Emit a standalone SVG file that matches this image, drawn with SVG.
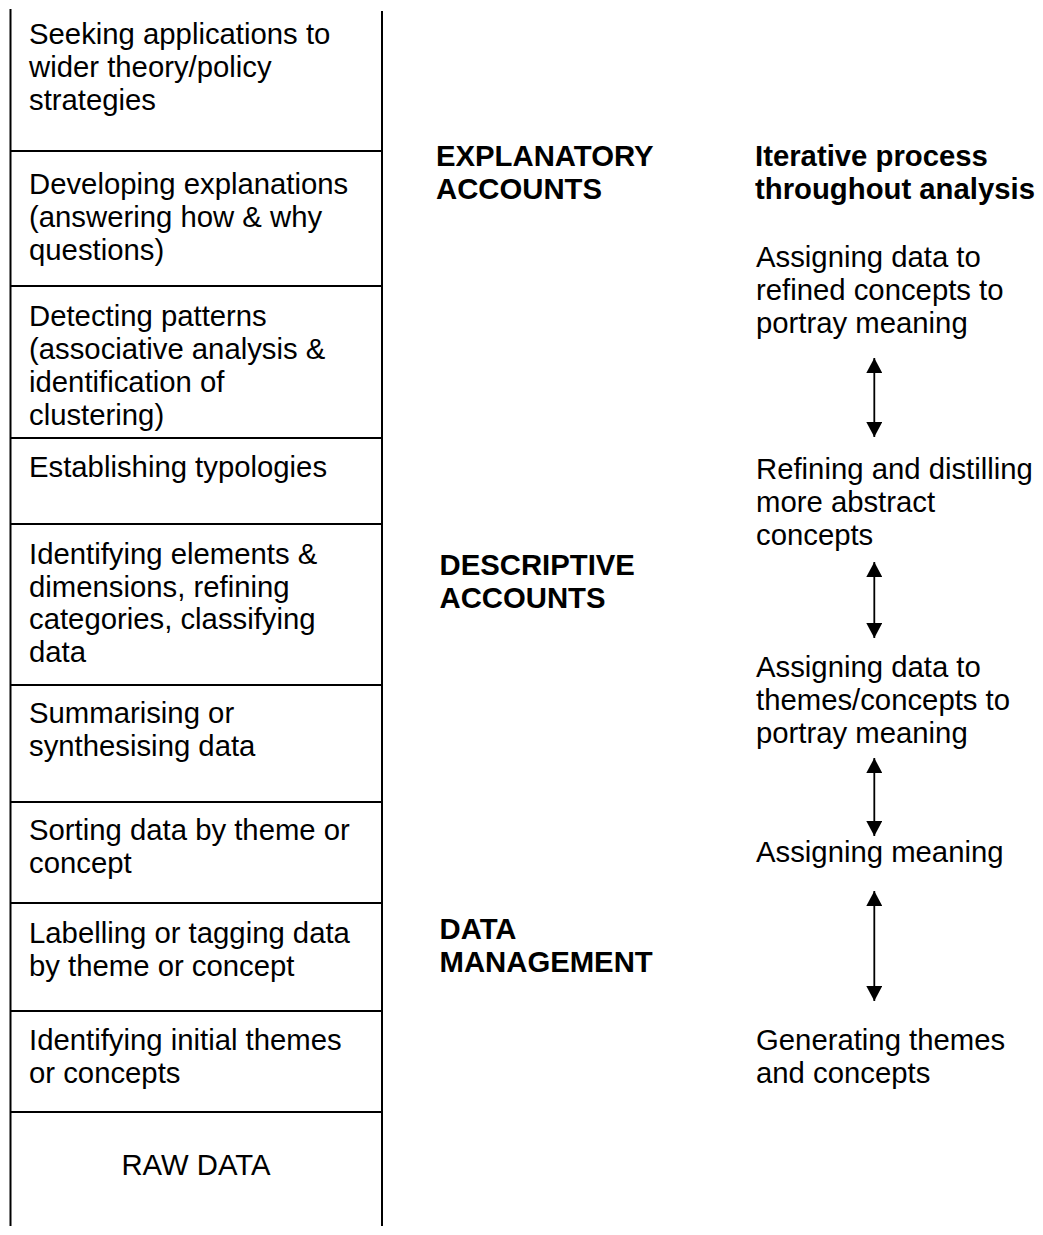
<svg xmlns="http://www.w3.org/2000/svg" width="1043" height="1235" viewBox="0 0 1043 1235">
  <style>
    .t { font-family: "Liberation Sans", Arial, sans-serif; font-size: 29.3px; fill: #000; }
    .b { font-weight: bold; }
    .rule { stroke: #000; stroke-width: 2; fill: none; }
    .arrow { stroke: #000; stroke-width: 1.8; fill: none; }
  </style>
  <defs>
    <marker id="head" viewBox="0 0 15 16" refX="15" refY="8" markerWidth="15" markerHeight="16" markerUnits="userSpaceOnUse" orient="auto-start-reverse">
      <path d="M0,0 L15,8 L0,16 Z" fill="#000"/>
    </marker>
  </defs>

  <rect x="0" y="0" width="1043" height="1235" fill="#fff"/>

  <!-- stacked column frame -->
  <g id="column-frame">
    <line class="rule" x1="10.5" y1="9" x2="10.5" y2="1226"/>
    <line class="rule" x1="382" y1="11" x2="382" y2="1226"/>
    <line class="rule" x1="10" y1="151" x2="383" y2="151"/>
    <line class="rule" x1="10" y1="286" x2="383" y2="286"/>
    <line class="rule" x1="10" y1="438" x2="383" y2="438"/>
    <line class="rule" x1="10" y1="524" x2="383" y2="524"/>
    <line class="rule" x1="10" y1="685" x2="383" y2="685"/>
    <line class="rule" x1="10" y1="802" x2="383" y2="802"/>
    <line class="rule" x1="10" y1="903" x2="383" y2="903"/>
    <line class="rule" x1="10" y1="1011" x2="383" y2="1011"/>
    <line class="rule" x1="10" y1="1112" x2="383" y2="1112"/>
  </g>

  <!-- column cells, top to bottom -->
  <g id="cell-seeking">
    <text class="t" x="29" y="43.5">Seeking applications to</text>
    <text class="t" x="29" y="76.5">wider theory/policy</text>
    <text class="t" x="29" y="109.5">strategies</text>
  </g>
  <g id="cell-developing">
    <text class="t" x="29" y="194">Developing explanations</text>
    <text class="t" x="29" y="227">(answering how &amp; why</text>
    <text class="t" x="29" y="260">questions)</text>
  </g>
  <g id="cell-detecting">
    <text class="t" x="29" y="325.5">Detecting patterns</text>
    <text class="t" x="29" y="358.5">(associative analysis &amp;</text>
    <text class="t" x="29" y="391.5">identification of</text>
    <text class="t" x="29" y="424.5">clustering)</text>
  </g>
  <g id="cell-typologies">
    <text class="t" x="29" y="476.5">Establishing typologies</text>
  </g>
  <g id="cell-elements">
    <text class="t" x="29" y="564">Identifying elements &amp;</text>
    <text class="t" x="29" y="596.5">dimensions, refining</text>
    <text class="t" x="29" y="629">categories, classifying</text>
    <text class="t" x="29" y="661.5">data</text>
  </g>
  <g id="cell-summarising">
    <text class="t" x="29" y="723">Summarising or</text>
    <text class="t" x="29" y="756">synthesising data</text>
  </g>
  <g id="cell-sorting">
    <text class="t" x="29" y="840">Sorting data by theme or</text>
    <text class="t" x="29" y="873">concept</text>
  </g>
  <g id="cell-labelling">
    <text class="t" x="29" y="942.5">Labelling or tagging data</text>
    <text class="t" x="29" y="975.5">by theme or concept</text>
  </g>
  <g id="cell-initial">
    <text class="t" x="29" y="1050">Identifying initial themes</text>
    <text class="t" x="29" y="1083">or concepts</text>
  </g>
  <g id="cell-raw">
    <text class="t" x="196" y="1174.5" text-anchor="middle">RAW DATA</text>
  </g>

  <!-- stage headings -->
  <g id="stage-explanatory">
    <text class="t b" x="436" y="166">EXPLANATORY</text>
    <text class="t b" x="436" y="199.3">ACCOUNTS</text>
  </g>
  <g id="stage-descriptive">
    <text class="t b" x="439.5" y="575">DESCRIPTIVE</text>
    <text class="t b" x="439.5" y="608.3">ACCOUNTS</text>
  </g>
  <g id="stage-management">
    <text class="t b" x="439.5" y="939">DATA</text>
    <text class="t b" x="439.5" y="972.3">MANAGEMENT</text>
  </g>

  <!-- iterative process column -->
  <g id="iterative-title">
    <text class="t b" x="755" y="166">Iterative process</text>
    <text class="t b" x="755" y="199.3">throughout analysis</text>
  </g>
  <g id="step-refined-concepts">
    <text class="t" x="756" y="267">Assigning data to</text>
    <text class="t" x="756" y="300">refined concepts to</text>
    <text class="t" x="756" y="333">portray meaning</text>
  </g>
  <g id="step-abstract-concepts">
    <text class="t" x="756" y="479">Refining and distilling</text>
    <text class="t" x="756" y="512">more abstract</text>
    <text class="t" x="756" y="545">concepts</text>
  </g>
  <g id="step-themes-concepts">
    <text class="t" x="756" y="677">Assigning data to</text>
    <text class="t" x="756" y="710">themes/concepts to</text>
    <text class="t" x="756" y="743">portray meaning</text>
  </g>
  <g id="step-meaning">
    <text class="t" x="756" y="862">Assigning meaning</text>
  </g>
  <g id="step-generating">
    <text class="t" x="756" y="1050">Generating themes</text>
    <text class="t" x="756" y="1083">and concepts</text>
  </g>

  <!-- two-way connectors between steps -->
  <g id="connectors">
    <line class="arrow" x1="874.3" y1="358" x2="874.3" y2="437" marker-start="url(#head)" marker-end="url(#head)"/>
    <line class="arrow" x1="874.3" y1="562" x2="874.3" y2="638" marker-start="url(#head)" marker-end="url(#head)"/>
    <line class="arrow" x1="874.3" y1="758" x2="874.3" y2="836" marker-start="url(#head)" marker-end="url(#head)"/>
    <line class="arrow" x1="874.3" y1="891" x2="874.3" y2="1001" marker-start="url(#head)" marker-end="url(#head)"/>
  </g>
</svg>
